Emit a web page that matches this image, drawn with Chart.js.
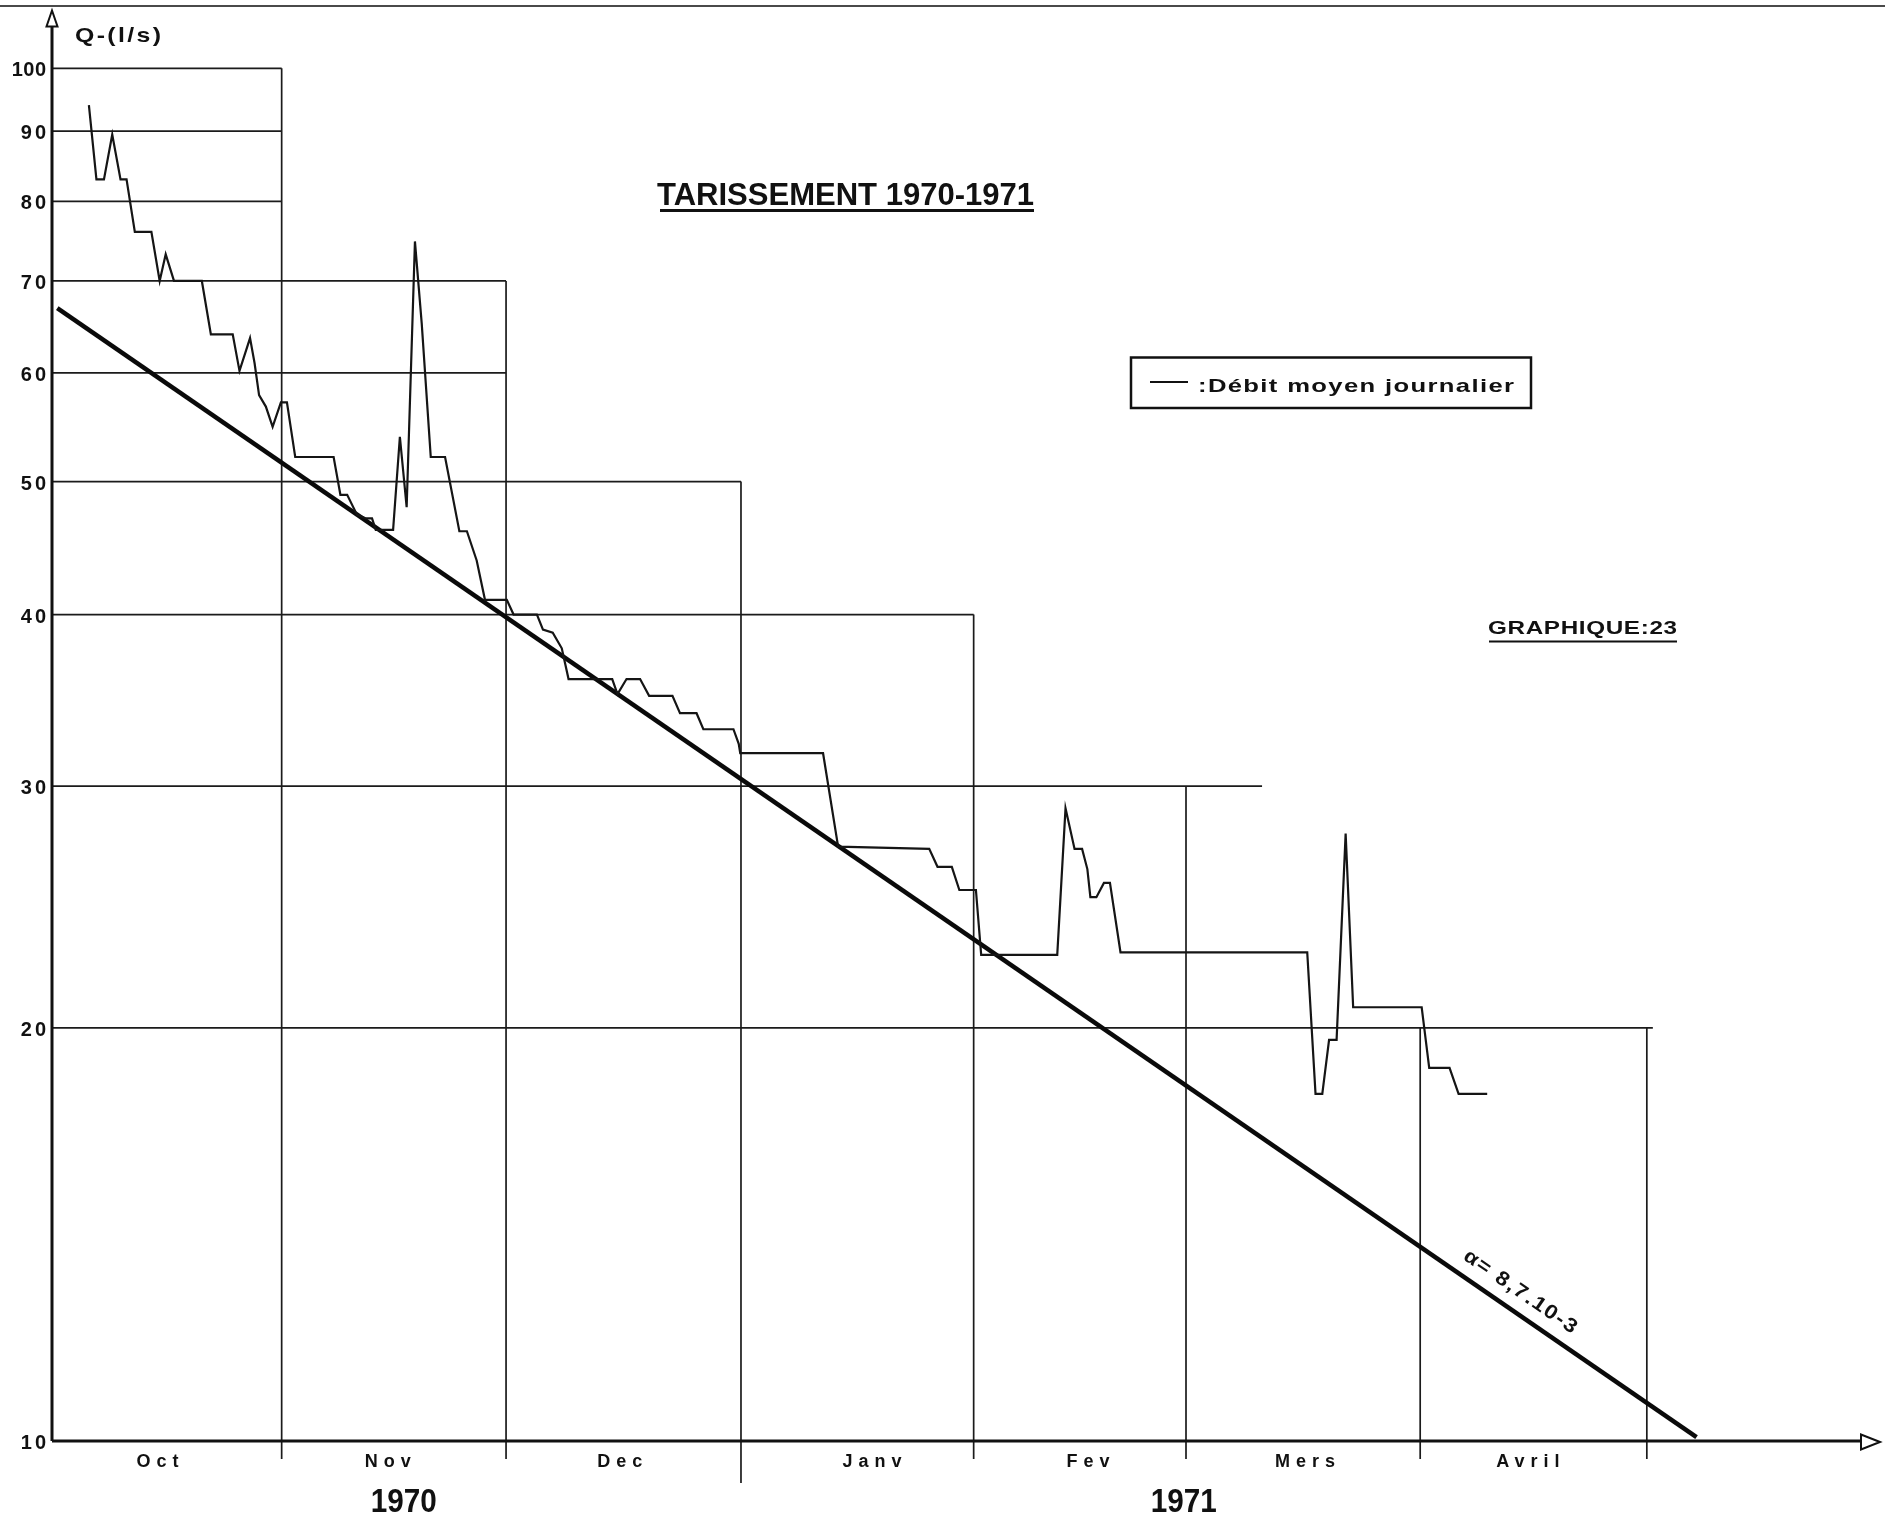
<!DOCTYPE html>
<html lang="fr">
<head>
<meta charset="utf-8">
<title>Tarissement 1970-1971</title>
<script src="https://cdn.jsdelivr.net/npm/chart.js@4/dist/chart.umd.min.js"></script>
<style>
  html, body { margin: 0; padding: 0; background: #ffffff; }
  canvas { display: block; }
</style>
</head>
<body>
<canvas id="graphique" width="1885" height="1515"></canvas>
<script>
// Débit moyen journalier : sommets de la courbe
// (jour compté depuis le 1er octobre 1970, débit en l/s)
const jours = [4.9, 5.9, 6.9, 8.0, 9.1, 9.9, 11.0, 13.2, 14.3, 15.1, 16.2, 19.9,
  21.1, 24.0, 24.9, 26.3, 26.9, 27.5, 28.4, 29.3, 30.4, 31.2, 32.3, 37.4,
  38.3, 39.2, 40.5, 41.7, 42.5, 43.0, 45.3, 46.2, 47.1, 48.2, 49.1, 50.3,
  52.2, 54.1, 55.1, 56.4, 57.5, 60.4, 61.3, 64.4, 65.2, 66.5, 67.7, 68.6,
  74.4, 75.1, 76.3, 78.1, 79.3, 82.4, 83.4, 85.6, 86.5, 90.5, 91.2, 91.4,
  102.4, 104.4, 116.5, 117.6, 119.5, 120.5, 122.7, 123.4, 133.5, 134.6, 135.8, 136.8,
  137.5, 137.9, 138.7, 139.7, 140.5, 141.9, 166.7, 167.8, 168.7, 169.6, 170.6, 171.8,
  172.8, 181.9, 182.9, 185.6, 186.8, 190.6];
const debits = [94.0, 83.0, 83.0, 89.5, 83.0, 83.0, 76.0, 76.0, 70.0, 73.2, 70.0, 70.0,
  64.0, 64.0, 60.2, 63.6, 61.0, 57.8, 56.7, 54.8, 57.1, 57.1, 52.1, 52.1,
  48.9, 48.9, 47.3, 47.0, 47.0, 46.1, 46.1, 53.9, 47.9, 74.8, 65.2, 52.1,
  52.1, 46.0, 46.0, 43.8, 41.0, 41.0, 40.0, 40.0, 39.0, 38.8, 37.8, 35.9,
  35.9, 35.0, 35.9, 35.9, 34.9, 34.9, 33.9, 33.9, 33.0, 33.0, 32.2, 31.7,
  31.7, 27.1, 27.0, 26.2, 26.2, 25.2, 25.2, 22.6, 22.6, 28.9, 27.0, 27.0,
  26.1, 24.9, 24.9, 25.5, 25.5, 22.7, 22.7, 17.9, 17.9, 19.6, 19.6, 27.7,
  20.7, 20.7, 18.7, 18.7, 17.9, 17.9];

// Droite de tarissement : Q = Q0 · exp(-α · t)
const alpha = 8.7e-3;
const q0 = 67.3;
const joursTarissement = [0.7, 218.4];

// Axe des débits (échelle logarithmique)
const yTicks = [10, 20, 30, 40, 50, 60, 70, 80, 90, 100];

// Quadrillage en escalier : niveau horizontal et jour où il s'arrête
const niveauxGrille = [100, 90, 80, 70, 60, 50, 40, 30, 20];
const finNiveaux = [30.5, 30.5, 30.5, 60.3, 60.3, 91.5, 122.4, 160.7, 212.6];

// Séparations entre les mois et niveau d'où part chaque trait vertical
const limitesMois = [30.5, 60.3, 91.5, 122.4, 150.6, 181.7, 211.8];
const departLimites = [100, 70, 50, 40, 30, 20, 20];
const limiteAnnee = 91.5;

// Noms des mois et années
const mois = ['Oct', 'Nov', 'Dec', 'Janv', 'Fev', 'Mers', 'Avril'];
const joursMois = [14.0, 44.6, 75.4, 108.9, 137.6, 166.4, 196.0];
const annees = ['1970', '1971'];
const joursAnnees = [46.7, 150.3];

const encre = '#111111';
const police = '"Liberation Sans", Arial, sans-serif';

// Texte centré, éventuellement resserré horizontalement à une largeur donnée
function texte(ctx, str, cx, base, taille, largeur, espacement, align) {
  ctx.save();
  ctx.font = 'bold ' + taille + 'px ' + police;
  ctx.letterSpacing = '0px';
  const n = str.length;
  const w = ctx.measureText(str).width + (espacement || 0) * (n - 1);
  ctx.letterSpacing = (espacement || 0) + 'px';
  ctx.translate(cx, base);
  const s = largeur ? largeur / w : 1;
  ctx.scale(s, 1);
  ctx.textAlign = 'left';
  ctx.textBaseline = 'alphabetic';
  ctx.fillStyle = encre;
  ctx.fillText(str, align === 'right' ? -w : -w / 2, 0);
  ctx.restore();
}

function segment(ctx, x1, y1, x2, y2) {
  ctx.beginPath();
  ctx.moveTo(x1, y1);
  ctx.lineTo(x2, y2);
  ctx.stroke();
}

const habillage = {
  id: 'habillage',
  beforeDraw(chart) {
    const ctx = chart.ctx;
    ctx.save();
    ctx.fillStyle = '#ffffff';
    ctx.fillRect(0, 0, chart.width, chart.height);
    // bord supérieur de la feuille
    ctx.strokeStyle = '#4a4a4a';
    ctx.lineWidth = 2;
    segment(ctx, 0, 6, chart.width, 6);
    ctx.restore();
  },
  beforeDatasetsDraw(chart) {
    const { ctx, scales: { x, y } } = chart;
    const x0 = x.getPixelForValue(0);
    const yb = y.getPixelForValue(10);
    ctx.save();
    ctx.strokeStyle = '#1b1b1b';
    ctx.lineWidth = 1.7;
    niveauxGrille.forEach((v, i) => {
      const py = y.getPixelForValue(v);
      segment(ctx, x0, py, x.getPixelForValue(finNiveaux[i]), py);
    });
    limitesMois.forEach((d, i) => {
      const px = x.getPixelForValue(d);
      const bas = yb + (d === limiteAnnee ? 42 : 18);
      segment(ctx, px, y.getPixelForValue(departLimites[i]), px, bas);
    });
    ctx.restore();
  },
  afterDatasetsDraw(chart) {
    const { ctx, scales: { x, y } } = chart;
    const x0 = x.getPixelForValue(0);
    const yb = y.getPixelForValue(10);
    const ytop = chart.chartArea.top;
    const xr = chart.chartArea.right;

    ctx.save();
    ctx.strokeStyle = encre;
    ctx.lineWidth = 3;
    // axe des débits avec flèche ouverte
    segment(ctx, x0, yb, x0, ytop + 15);
    ctx.lineWidth = 2;
    ctx.beginPath();
    ctx.moveTo(x0, ytop - 1);
    ctx.lineTo(x0 + 5.5, ytop + 15);
    ctx.lineTo(x0 - 5.5, ytop + 15);
    ctx.closePath();
    ctx.stroke();
    // axe du temps avec flèche ouverte
    ctx.lineWidth = 3;
    segment(ctx, x0, yb, xr - 17, yb);
    ctx.lineWidth = 2;
    ctx.beginPath();
    ctx.moveTo(xr + 2, yb + 1);
    ctx.lineTo(xr - 17, yb - 6.5);
    ctx.lineTo(xr - 17, yb + 8.5);
    ctx.closePath();
    ctx.stroke();

    // graduations de l'axe des débits
    y.ticks.forEach(t => {
      const lbl = String(t.value);
      texte(ctx, lbl, x0 - 6, y.getPixelForValue(t.value) + 8, 20, null, lbl.length > 2 ? 0.5 : 3, 'right');
    });

    // unité de l'axe vertical
    texte(ctx, 'Q-(l/s)', 118, 42, 21, 86, 2);

    // titre souligné
    texte(ctx, 'TARISSEMENT 1970-1971', 845.5, 205, 31, 377, 0);
    ctx.lineWidth = 3;
    segment(ctx, 660, 210.5, 1034, 210.5);

    // cartouche de légende
    ctx.lineWidth = 2.5;
    ctx.strokeRect(1131, 357.5, 400, 50.5);
    ctx.lineWidth = 2;
    segment(ctx, 1150, 382, 1188, 382);
    texte(ctx, ':Débit moyen journalier', 1356, 392, 19, 316, 1);

    // numéro du graphique
    texte(ctx, 'GRAPHIQUE:23', 1582.5, 634, 19, 189, 0.5);
    ctx.lineWidth = 2;
    segment(ctx, 1489, 641.5, 1677, 641.5);

    // mois et années
    mois.forEach((m, i) => {
      texte(ctx, m, x.getPixelForValue(joursMois[i]), 1467, 18, null, 6);
    });
    annees.forEach((a, i) => {
      texte(ctx, a, x.getPixelForValue(joursAnnees[i]), 1512, 33, 66, 0);
    });

    // coefficient de tarissement écrit le long de la droite
    const t1 = joursTarissement[0], t2 = joursTarissement[1];
    const px1 = x.getPixelForValue(t1), py1 = y.getPixelForValue(q0 * Math.exp(-alpha * t1));
    const px2 = x.getPixelForValue(t2), py2 = y.getPixelForValue(q0 * Math.exp(-alpha * t2));
    const angle = Math.atan2(py2 - py1, px2 - px1);
    const tc = 193.5;
    const cx = x.getPixelForValue(tc);
    const cy = y.getPixelForValue(q0 * Math.exp(-alpha * tc));
    const dec = 14;
    ctx.translate(cx + dec * Math.sin(angle), cy - dec * Math.cos(angle));
    ctx.rotate(angle);
    texte(ctx, 'α= 8,7.10-3', 0, 0, 20, 133, 1.5);
    ctx.restore();
  }
};

new Chart(document.getElementById('graphique'), {
  type: 'line',
  data: {
    datasets: [
      {
        label: 'Débit moyen journalier',
        data: jours.map((d, i) => ({ x: d, y: debits[i] })),
        borderColor: '#151515',
        borderWidth: 2.2,
        pointRadius: 0,
        tension: 0,
        fill: false
      },
      {
        label: 'Tarissement',
        data: joursTarissement.map(t => ({ x: t, y: q0 * Math.exp(-alpha * t) })),
        borderColor: '#0a0a0a',
        borderWidth: 4.5,
        pointRadius: 0,
        tension: 0,
        fill: false
      }
    ]
  },
  options: {
    responsive: false,
    animation: false,
    devicePixelRatio: 1,
    layout: { padding: { left: 0, right: 7, top: 11.5, bottom: 74 } },
    plugins: { legend: { display: false }, tooltip: { enabled: false } },
    scales: {
      x: { type: 'linear', min: 0, max: 242.5, display: false },
      y: {
        type: 'logarithmic',
        min: 10,
        max: 110,
        afterBuildTicks: s => { s.ticks = yTicks.map(v => ({ value: v })); },
        afterFit: s => { s.width = 52; },
        grid: { display: false, drawTicks: false },
        border: { display: false },
        ticks: { display: false }
      }
    }
  },
  plugins: [habillage]
});
</script>
</body>
</html>
